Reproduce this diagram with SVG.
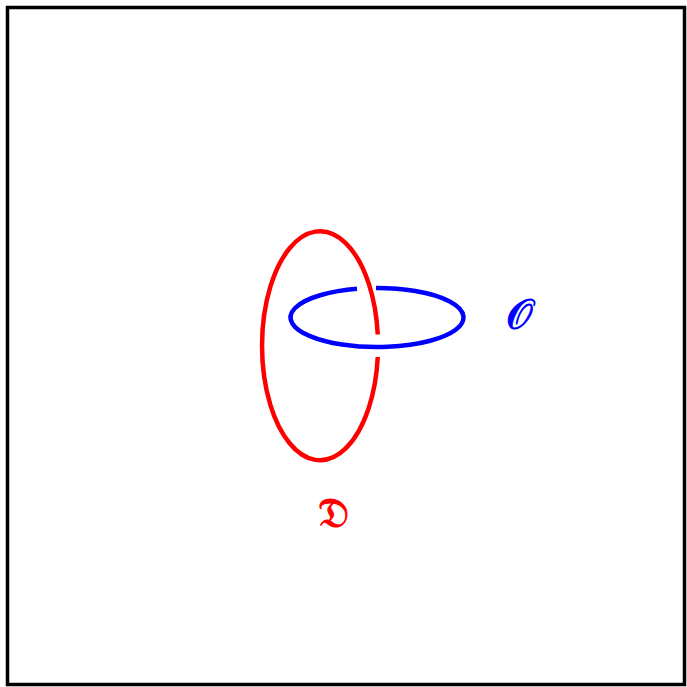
<svg xmlns="http://www.w3.org/2000/svg" width="687" height="687" viewBox="0 0 687 687">
<style>
.frame{fill:#fff;stroke:#000;stroke-width:3.5}
.loop{fill:none;stroke-width:4.5;stroke-linecap:butt}
.lbl{font-family:"DejaVu Serif","DejaVu Sans","Noto Sans",serif;font-size:42px;text-anchor:middle;stroke-width:1}
</style>
<rect class="frame" x="7.5" y="7.5" width="677" height="677"/>
<g id="connectors">
<path id="loopD" class="loop" stroke="#ff0000" d="M 377.76 357 A 58 114.5 0 1 1 377.76 334.5"/>
<path id="loopO" class="loop" stroke="#0000ff" d="M 376 288 A 86.5 29.5 0 1 1 357 288.8"/>
</g>
<g id="labelO"><text class="lbl" x="519" y="329" fill="#0000ff" stroke="#0000ff">𝒪</text></g>
<g id="labelD"><text class="lbl" x="333" y="527" fill="#ff0000" stroke="#ff0000">𝔇</text></g>
</svg>
